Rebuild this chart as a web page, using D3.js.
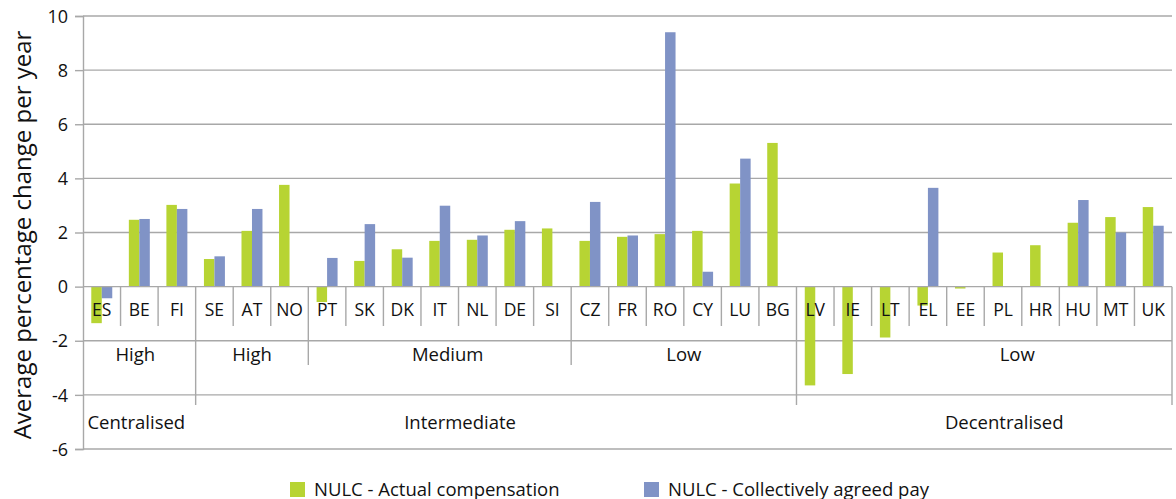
<!DOCTYPE html>
<html><head><meta charset="utf-8">
<script src="https://cdn.jsdelivr.net/npm/d3@7"></script>
<style>
body{margin:0;background:#fff}
text{font-family:"Open Sans",sans-serif;fill:#111}
</style>
</head><body>
<svg id="chart" width="1176" height="499"></svg>
<script>
// ---------- DATA ----------
const countries = ["ES","BE","FI","SE","AT","NO","PT","SK","DK","IT","NL","DE","SI","CZ","FR","RO","CY","LU","BG","LV","IE","LT","EL","EE","PL","HR","HU","MT","UK"];
const actualCompensation = [-1.35,2.47,3.02,1.02,2.06,3.76,-0.57,0.95,1.38,1.69,1.73,2.10,2.15,1.69,1.84,1.94,2.06,3.81,5.31,-3.65,-3.23,-1.88,-0.70,-0.07,1.26,1.53,2.36,2.57,2.94];
const agreedPay = [-0.43,2.50,2.87,1.12,2.87,null,1.06,2.31,1.07,2.99,1.89,2.42,null,3.13,1.89,9.40,0.55,4.73,null,null,null,null,3.65,null,null,null,3.20,2.00,2.25];
const coverageLabels = ["High","High","Medium","Low","Low"];
const coverageSpans = [["ES","FI"],["SE","NO"],["PT","SI"],["CZ","BG"],["LV","UK"]];
const bargainingLabels = ["Centralised","Intermediate","Decentralised"];
const bargainingSpans = [["ES","FI"],["SE","BG"],["LV","UK"]];
const yTicks = [-6,-4,-2,0,2,4,6,8,10];
const seriesNames = ["NULC - Actual compensation","NULC - Collectively agreed pay"];
const seriesColors = ["#b7d433","#8093c6"];
const yTitle = "Average percentage change per year";

// ---------- LAYOUT ----------
const L = 83, R = 1172, T = 16, B = 449;
const svg = d3.select("#chart");
const y = d3.scaleLinear().domain([-6,10]).range([B,T]);
const x0 = d3.scaleBand().domain(countries).range([L,R]).paddingInner(0).paddingOuter(0);
const x1 = d3.scaleBand().domain([0,1]).range([0,x0.bandwidth()]).paddingInner(0).paddingOuter(0.79);
const y0 = y(0);
const gridColor = "#a8a8a8";

// gridlines
svg.append("g").selectAll("line").data(yTicks.filter(d=>d!==0)).join("line")
  .attr("x1",L).attr("x2",R).attr("y1",d=>y(d)).attr("y2",d=>y(d))
  .attr("stroke",gridColor).attr("stroke-width",1.4);

// y axis
const yAxis = d3.axisLeft(y).tickValues(yTicks).tickSize(8).tickPadding(7).tickFormat(d=>String(d));
const ga = svg.append("g").attr("transform",`translate(${L},0)`).call(yAxis);
ga.select(".domain").attr("stroke",gridColor).attr("stroke-width",1.4);
ga.selectAll(".tick line").attr("stroke",gridColor).attr("stroke-width",1.4);
ga.selectAll(".tick text").attr("font-size",18).attr("font-family","'Open Sans',sans-serif").attr("fill","#111").attr("dy","0.34em");

// bars
const series = [actualCompensation, agreedPay];
const barG = svg.append("g");
series.forEach((vals,si)=>{
  barG.append("g").selectAll("rect")
    .data(countries.map((c,i)=>({c,v:vals[i]})).filter(d=>d.v!==null))
    .join("rect")
    .attr("x",d=>x0(d.c)+x1(si))
    .attr("width",x1.bandwidth())
    .attr("y",d=>Math.min(y(d.v),y0))
    .attr("height",d=>Math.abs(y(d.v)-y0))
    .attr("fill",seriesColors[si]);
});

// category axis line (zero)
svg.append("line").attr("x1",L).attr("x2",R).attr("y1",y0).attr("y2",y0)
  .attr("stroke",gridColor).attr("stroke-width",1.4);

// dividers
const lvl1Bottom = 326, lvl2Bottom = 365, lvl3Bottom = 405;
const boundaries = countries.map((c,i)=>i).slice(1).concat([countries.length]);
const startsOf = spans => spans.map(s=>countries.indexOf(s[0]));
const cov = new Set(startsOf(coverageSpans));
const bar = new Set(startsOf(bargainingSpans));
boundaries.forEach(i=>{
  const xx = i===countries.length ? R : x0(countries[i]);
  let bottom = lvl1Bottom;
  if (cov.has(i)) bottom = lvl2Bottom;
  if (bar.has(i) || i===countries.length) bottom = lvl3Bottom;
  svg.append("line").attr("x1",xx).attr("x2",xx).attr("y1",y0).attr("y2",bottom)
    .attr("stroke",gridColor).attr("stroke-width",1.4);
});

// country labels
svg.append("g").selectAll("text").data(countries).join("text")
  .attr("x",d=>x0(d)+x0.bandwidth()/2).attr("y",316)
  .attr("text-anchor","middle").attr("font-size",17.5).text(d=>d);

// group labels
const spanCenter = s => (x0(s[0]) + x0(s[1]) + x0.bandwidth())/2;
const covShift = [-4,0,8,0,33];
const barShift = [-3,-36,20];
svg.append("g").selectAll("text").data(coverageLabels).join("text")
  .attr("x",(d,i)=>spanCenter(coverageSpans[i])+covShift[i]).attr("y",361)
  .attr("text-anchor","middle").attr("font-size",18.5).text(d=>d);
svg.append("g").selectAll("text").data(bargainingLabels).join("text")
  .attr("x",(d,i)=>spanCenter(bargainingSpans[i])+barShift[i]).attr("y",429)
  .attr("text-anchor","middle").attr("font-size",18.5).text(d=>d);

// y title
svg.append("text").attr("transform","translate(31,235) rotate(-90)")
  .attr("text-anchor","middle").attr("font-size",24).text(yTitle);

// legend
const legX = [290, 644];
const lg = svg.append("g").selectAll("g").data(seriesNames).join("g")
  .attr("transform",(d,i)=>`translate(${legX[i]},482)`);
lg.append("rect").attr("width",15).attr("height",15).attr("fill",(d,i)=>seriesColors[i]);
lg.append("text").attr("x",24).attr("y",13.5).attr("font-size",18.5).text(d=>d);
</script>
</body></html>
